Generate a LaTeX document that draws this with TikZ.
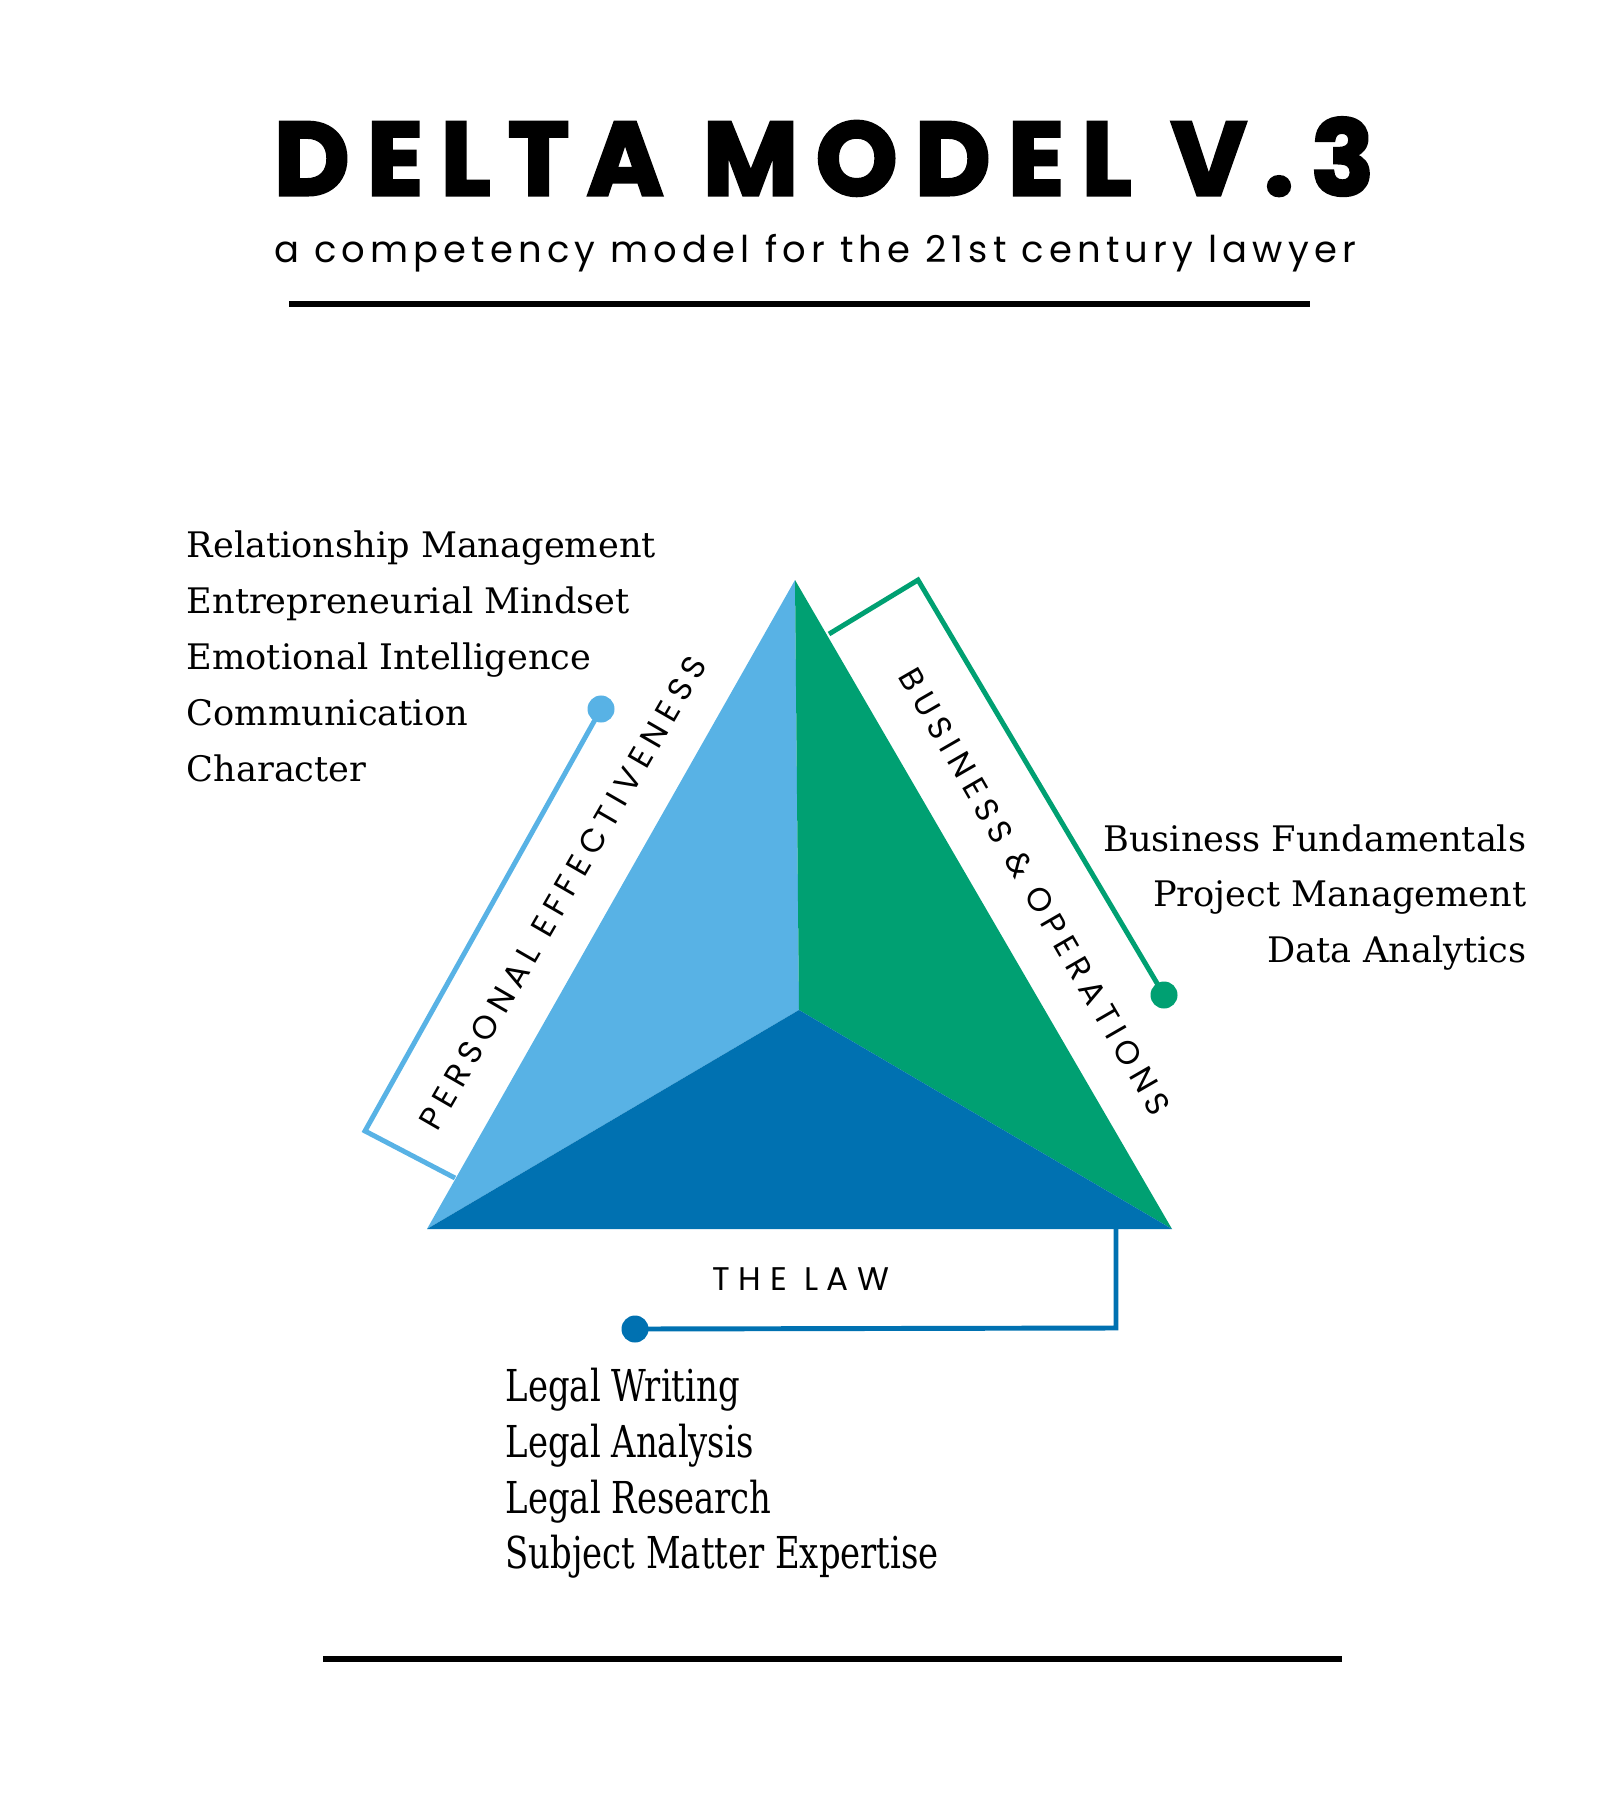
\documentclass[tikz,border=0pt]{standalone}
\usepackage{fontspec}
\usepackage{tikz}
\definecolor{pe}{RGB}{88, 178, 229}
\definecolor{bo}{RGB}{0, 160, 114}
\definecolor{tl}{RGB}{0, 113, 177}
\newfontfamily\titlefont[FakeBold=3,LetterSpace=17]{Poppins}
\newfontfamily\subfont[LetterSpace=14]{Poppins}
\newfontfamily\capsfont[LetterSpace=21]{Poppins}
\newfontfamily\lawfont[LetterSpace=26]{Poppins}
\newfontfamily\listfont{DejaVu Serif}
\newfontfamily\narrowfont[FakeStretch=0.77]{DejaVu Serif}
\tikzset{
	dot/.style={circle, minimum size=0.27cm, inner sep=0pt},
	bracket/.style={line width=1.4pt, line join=miter},
	skill/.style={font=\listfont\fontsize{10}{12}\selectfont},
	lawskill/.style={font=\narrowfont\fontsize{12.5}{14}\selectfont},
	facelabel/.style={font=\capsfont\fontsize{9.3}{11}\selectfont}
}

\begin{document}
\begin{tikzpicture}
			[x=0.01cm, y=-0.01cm, every node/.style={inner sep=0pt}]
			\useasboundingbox (0,0) rectangle (1600,1800);
			% heading
			\node (title) [anchor=base, font=\titlefont\bfseries\fontsize{29.5}{30}\selectfont] at (824,195) {DELTA MODEL V.3};
			\node (subtitle) [anchor=base, font=\subfont\fontsize{10.5}{12}\selectfont] at (815,262) {a competency model for the 21st century lawyer};
			\coordinate (rule1l) at (289,304);
			\coordinate (rule1r) at (1310,304);
			\draw [line width=0.6mm] (rule1l) -- (rule1r);
			% the delta
			\coordinate (apex) at (795,580);
			\coordinate (bl) at (427,1229);
			\coordinate (br) at (1172,1229);
			\coordinate (mid) at (799,1010);
			\fill [pe] (apex) -- (mid) -- (bl) -- cycle;
			\fill [bo] (apex) -- (mid) -- (br) -- cycle;
			\fill [tl] (bl) -- (mid) -- (br) -- cycle;
			% personal effectiveness
			\node (pedot) [dot, fill=pe] at (601,709) {};
			\coordinate (pecorner) at (365,1131);
			\coordinate (peend) at (455,1178);
			\draw [bracket, color=pe] (pedot.center) -- (pecorner) -- (peend);
			\node (pelabel) [facelabel, rotate=60] at (563,893) {PERSONAL EFFECTIVENESS};
			% business & operations
			\node (bodot) [dot, fill=bo] at (1164,995) {};
			\coordinate (bocorner) at (918,580);
			\coordinate (bostart) at (829,634);
			\draw [bracket, color=bo] (bostart) -- (bocorner) -- (bodot.center);
			\node (bolabel) [facelabel, rotate=-60] at (1035,892) {BUSINESS \& OPERATIONS};
			% the law
			\node (tldot) [dot, fill=tl] at (635,1329) {};
			\coordinate (tlstart) at (1116,1229);
			\coordinate (tlcorner) at (1116,1328);
			\draw [bracket, color=tl] (tlstart) -- (tlcorner) -- (tldot.center);
			\node (tllabel) [font=\lawfont\fontsize{9.3}{11}\selectfont] at (801,1279) {THE LAW};
			% skills
			\node (pe1) [skill, anchor=base west] at (186,557) {Relationship Management};
			\node (pe2) [skill, anchor=base west] at (186,613) {Entrepreneurial Mindset};
			\node (pe3) [skill, anchor=base west] at (186,669) {Emotional Intelligence};
			\node (pe4) [skill, anchor=base west] at (186,725) {Communication};
			\node (pe5) [skill, anchor=base west] at (186,781) {Character};
			\node (bo1) [skill, anchor=base east] at (1527,851) {Business Fundamentals};
			\node (bo2) [skill, anchor=base east] at (1527,906) {Project Management};
			\node (bo3) [skill, anchor=base east] at (1527,962) {Data Analytics};
			\node (tl1) [lawskill, anchor=base west] at (505,1401) {Legal Writing};
			\node (tl2) [lawskill, anchor=base west] at (505,1457) {Legal Analysis};
			\node (tl3) [lawskill, anchor=base west] at (505,1513) {Legal Research};
			\node (tl4) [lawskill, anchor=base west] at (505,1568) {Subject Matter Expertise};
			\coordinate (rule2l) at (323,1659);
			\coordinate (rule2r) at (1342,1659);
			\draw [line width=0.6mm] (rule2l) -- (rule2r);
		\end{tikzpicture}
\end{document}
